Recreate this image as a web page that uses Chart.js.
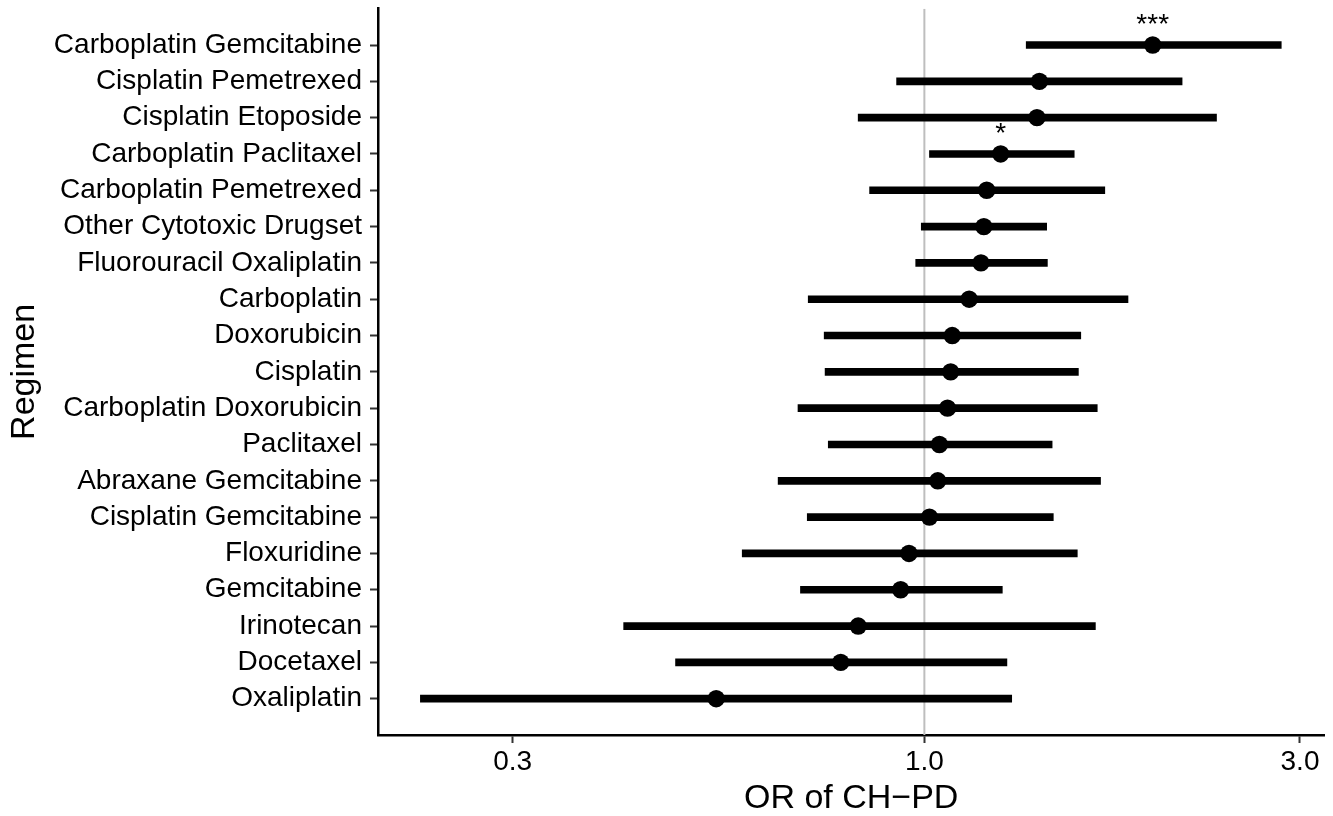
<!DOCTYPE html>
<html>
<head>
<meta charset="utf-8">
<title>OR of CH-PD by regimen</title>
<script src="https://cdn.jsdelivr.net/npm/chart.js@4/dist/chart.umd.min.js"></script>
<style>
    html, body { margin: 0; padding: 0; background: #fff; }
    #wrap { width: 1333px; height: 816px; position: relative; }
</style>
</head>
<body>
<div id="wrap"><canvas id="orChart"></canvas></div>
<script>
// Regimens, top to bottom
const regimens = [
    'Carboplatin Gemcitabine', 'Cisplatin Pemetrexed', 'Cisplatin Etoposide',
    'Carboplatin Paclitaxel', 'Carboplatin Pemetrexed', 'Other Cytotoxic Drugset',
    'Fluorouracil Oxaliplatin', 'Carboplatin', 'Doxorubicin', 'Cisplatin',
    'Carboplatin Doxorubicin', 'Paclitaxel', 'Abraxane Gemcitabine',
    'Cisplatin Gemcitabine', 'Floxuridine', 'Gemcitabine', 'Irinotecan',
    'Docetaxel', 'Oxaliplatin'
];
const oddsRatio = [1.95, 1.40, 1.39, 1.25, 1.20, 1.19, 1.18, 1.14, 1.085, 1.08,
    1.07, 1.045, 1.04, 1.015, 0.956, 0.933, 0.824, 0.783, 0.544];
const ciLow = [1.347, 0.922, 0.824, 1.015, 0.852, 0.991, 0.975, 0.712, 0.746, 0.748,
    0.691, 0.755, 0.652, 0.710, 0.587, 0.696, 0.415, 0.483, 0.229];
const ciHigh = [2.84, 2.125, 2.35, 1.55, 1.695, 1.43, 1.433, 1.814, 1.58, 1.569,
    1.658, 1.453, 1.674, 1.458, 1.564, 1.256, 1.649, 1.273, 1.291];
const sigLabels = ['***', '', '', '*', '', '', '', '', '', '', '', '', '', '', '', '', '', '', ''];
const xTicks = [0.3, 1, 3];
const nullOR = 1;

const FONT = '"Liberation Sans", Arial, Helvetica, sans-serif';

// significance stars above the point estimates
const starPlugin = {
    id: 'stars',
    afterDatasetsDraw(chart) {
        const {ctx, scales} = chart;
        ctx.save();
        ctx.fillStyle = '#000';
        ctx.font = '28px ' + FONT;
        ctx.textAlign = 'center';
        ctx.textBaseline = 'alphabetic';
        sigLabels.forEach((s, i) => {
            if (!s) return;
            const x = scales.x.getPixelForValue(oddsRatio[i]);
            const y = scales.y.getPixelForValue(i + 1);
            ctx.fillText(s, x, y - 12);
        });
        ctx.restore();
    }
};

const config = {
    type: 'bar',
    data: {
        datasets: [
            {
                type: 'scatter',
                data: regimens.map((r, i) => ({x: oddsRatio[i], y: i + 1})),
                backgroundColor: '#000',
                borderWidth: 0,
                pointRadius: 8.7,
                pointHoverRadius: 8.7,
                order: 1
            },
            {
                type: 'bar',
                data: regimens.map((r, i) => ({y: i + 1, x: [ciLow[i], ciHigh[i]]})),
                backgroundColor: '#000',
                borderWidth: 0,
                barThickness: 7,
                order: 2
            },
            {
                type: 'line',
                data: [{x: nullOR, y: 0}, {x: nullOR, y: regimens.length + 1}],
                borderColor: '#bebebe',
                borderWidth: 2,
                pointRadius: 0,
                order: 3
            }
        ]
    },
    options: {
        indexAxis: 'y',
        responsive: true,
        maintainAspectRatio: false,
        animation: false,
        layout: {
            padding: {left: 4, right: 1, top: 8, bottom: 0}
        },
        plugins: {
            legend: {display: false},
            tooltip: {enabled: false}
        },
        scales: {
            x: {
                type: 'logarithmic',
                min: 0.2023,
                max: 3.221,
                beginAtZero: false,
                afterBuildTicks: axis => {
                    axis.ticks = xTicks.map(v => ({value: v}));
                },
                afterFit: axis => {
                    axis.height = 81;
                    axis.paddingLeft = 0;
                    axis.paddingRight = 0;
                },
                border: {display: true, color: '#000', width: 2.5},
                grid: {
                    drawOnChartArea: false,
                    drawTicks: true,
                    tickLength: 8,
                    tickColor: '#333',
                    tickWidth: 2
                },
                ticks: {
                    autoSkip: false,
                    maxRotation: 0,
                    padding: 2,
                    color: '#000',
                    font: {family: FONT, size: 28, lineHeight: 1.2},
                    callback: v => Number(v).toFixed(1)
                },
                title: {
                    display: true,
                    text: 'OR of CH\u2212PD',
                    color: '#000',
                    font: {family: FONT, size: 34, lineHeight: 1},
                    padding: {top: 0, bottom: 0}
                }
            },
            y: {
                type: 'linear',
                min: 0,
                max: regimens.length + 1,
                reverse: true,
                offset: false,
                afterBuildTicks: axis => {
                    axis.ticks = regimens.map((r, i) => ({value: i + 1}));
                },
                afterFit: axis => {
                    axis.width = 374;
                    axis.paddingTop = 0;
                    axis.paddingBottom = 0;
                },
                border: {display: true, color: '#000', width: 2.5},
                grid: {
                    offset: false,
                    drawOnChartArea: false,
                    drawTicks: true,
                    tickLength: 8,
                    tickColor: '#333',
                    tickWidth: 2
                },
                ticks: {
                    autoSkip: false,
                    padding: 8,
                    color: '#000',
                    font: {family: FONT, size: 28, lineHeight: 1.2},
                    callback: v => regimens[v - 1] || ''
                },
                title: {
                    display: true,
                    text: 'Regimen',
                    color: '#000',
                    font: {family: FONT, size: 34, lineHeight: 1},
                    padding: {top: 3.5, bottom: 0}
                }
            }
        }
    },
    plugins: [starPlugin]
};

new Chart(document.getElementById('orChart').getContext('2d'), config);
</script>
</body>
</html>
